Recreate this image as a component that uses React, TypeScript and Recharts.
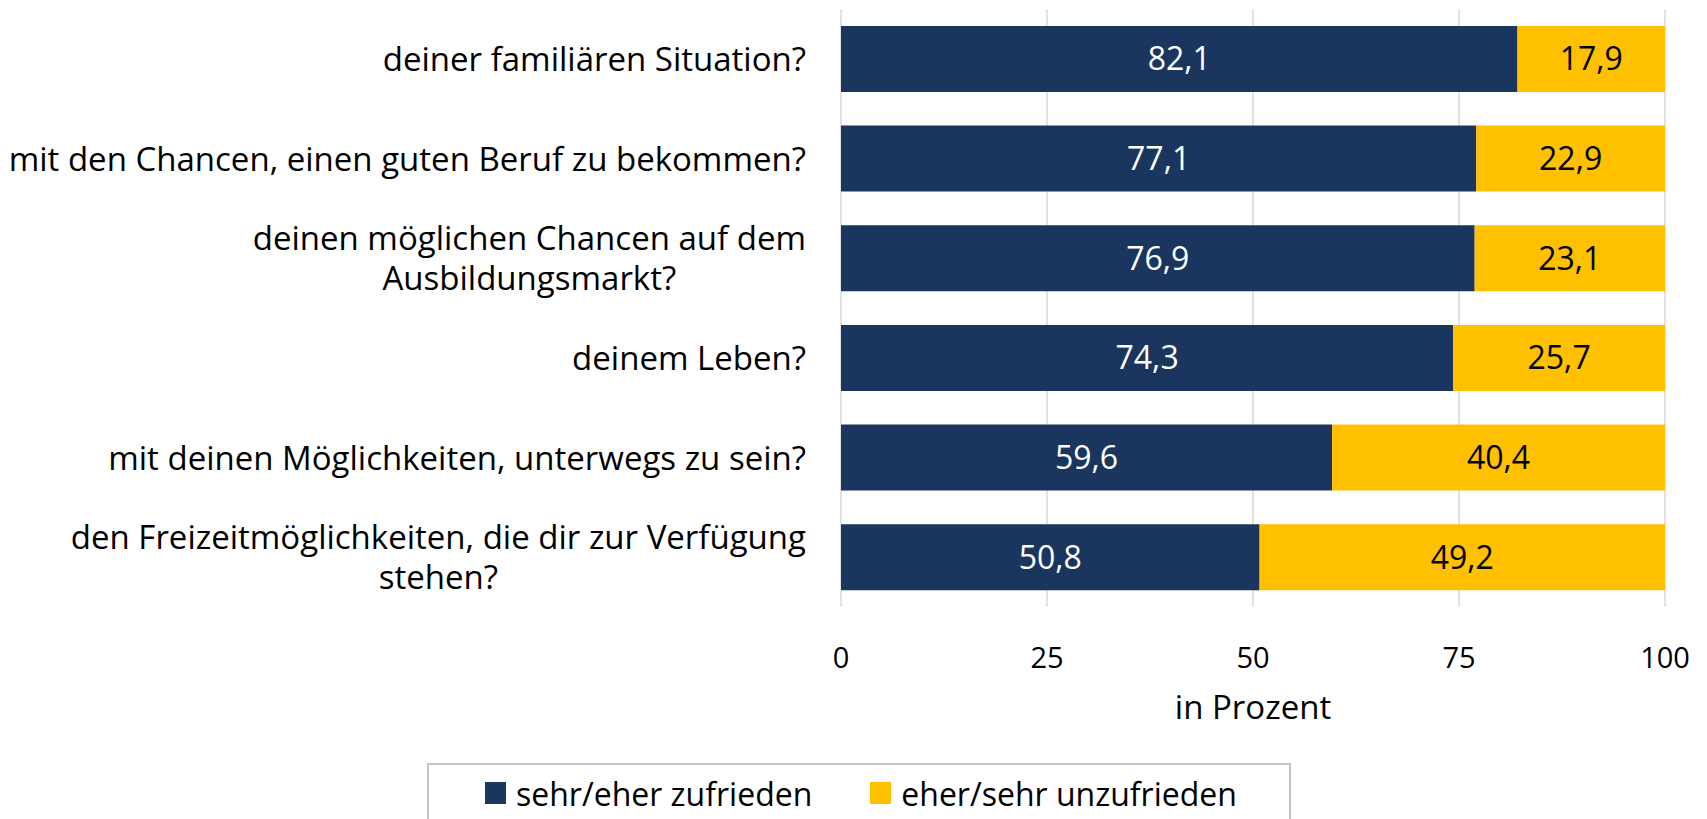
import { BarChart, Bar, XAxis, YAxis, CartesianGrid, Legend, LabelList } from "recharts";

const categories = [
  "deiner familiären Situation?",
  "mit den Chancen, einen guten Beruf zu bekommen?",
  "deinen möglichen Chancen auf dem\nAusbildungsmarkt?",
  "deinem Leben?",
  "mit deinen Möglichkeiten, unterwegs zu sein?",
  "den Freizeitmöglichkeiten, die dir zur Verfügung\nstehen?",
];
const zufrieden = [82.1, 77.1, 76.9, 74.3, 59.6, 50.8];
const unzufrieden = [17.9, 22.9, 23.1, 25.7, 40.4, 49.2];
const xTicks = [0, 25, 50, 75, 100];

const seriesNames = ["sehr/eher zufrieden", "eher/sehr unzufrieden"];
const NAVY = "#1b365e";
const GOLD = "#ffc000";
const FONT = "'Open Sans', 'Noto Sans', sans-serif";

const data = categories.map((name, i) => ({
  name,
  zufrieden: zufrieden[i],
  unzufrieden: unzufrieden[i],
}));

const fmt = (v: any) => Number(v).toFixed(1).replace(".", ",");

function CategoryTick(props: any) {
  const { y, payload } = props;
  return (
    <foreignObject x={0} y={y - 50} width={806} height={100}>
      <div
        style={{
          height: "100%",
          display: "flex",
          alignItems: "center",
          justifyContent: "flex-end",
        }}
      >
        <div
          style={{
            textAlign: "center",
            whiteSpace: "pre-line",
            fontFamily: FONT,
            fontSize: 33,
            lineHeight: "40px",
            color: "#000",
          }}
        >
          {payload.value}
        </div>
      </div>
    </foreignObject>
  );
}

function ValueTick(props: any) {
  const { x, y, payload } = props;
  return (
    <text x={x} y={y + 53} textAnchor="middle" fontFamily={FONT} fontSize={29} fill="#000">
      {payload.value}
    </text>
  );
}

function LegendBox() {
  const colors = [NAVY, GOLD];
  return (
    <div
      style={{
        boxSizing: "border-box",
        width: 864,
        height: 60,
        border: "2px solid #c4c4c4",
        background: "#fff",
        display: "flex",
        alignItems: "center",
        paddingLeft: 56,
        fontFamily: FONT,
        fontSize: 32,
        color: "#000",
        whiteSpace: "nowrap",
      }}
    >
      {seriesNames.map((n, i) => (
        <div key={n} style={{ display: "flex", alignItems: "center", marginRight: 58, flexShrink: 0 }}>
          <span style={{ width: 21, height: 22, background: colors[i], marginRight: 10, display: "inline-block", flexShrink: 0 }} />
          <span>{n}</span>
        </div>
      ))}
    </div>
  );
}

export default function App() {
  return (
    <div style={{ position: "absolute", left: 0, top: 0, background: "#fff" }}>
      <BarChart
        width={1707}
        height={819}
        data={data}
        layout="vertical"
        barCategoryGap="17%"
        margin={{ top: 9, right: 42, bottom: 52, left: 0 }}
      >
        <CartesianGrid horizontal={false} stroke="#d9d9d9" strokeWidth={1.5} />
        <XAxis
          type="number"
          domain={[0, 100]}
          ticks={xTicks}
          axisLine={false}
          tickLine={false}
          height={100}
          tick={<ValueTick />}
          label={{
            content: (p: any) => {
              const vb = p.viewBox;
              return (
                <text x={vb.x + vb.width / 2} y={vb.y + 112} textAnchor="middle" fontFamily={FONT} fontSize={33} fill="#000">
                  in Prozent
                </text>
              );
            },
          }}
        />
        <YAxis
          type="category"
          dataKey="name"
          width={841}
          axisLine={false}
          tickLine={false}
          tick={<CategoryTick />}
          interval={0}
        />
        <Legend
          verticalAlign="bottom"
          content={() => <LegendBox />}
          wrapperStyle={{ top: 763, left: 427, bottom: "auto", width: 864, height: 60 }}
        />
        <Bar dataKey="zufrieden" name={seriesNames[0]} stackId="a" fill={NAVY} isAnimationActive={false}>
          <LabelList dataKey="zufrieden" position="center" fill="#fff" fontFamily={FONT} fontSize={32} formatter={fmt} />
        </Bar>
        <Bar dataKey="unzufrieden" name={seriesNames[1]} stackId="a" fill={GOLD} isAnimationActive={false}>
          <LabelList dataKey="unzufrieden" position="center" fill="#000" fontFamily={FONT} fontSize={32} formatter={fmt} />
        </Bar>
      </BarChart>
    </div>
  );
}
